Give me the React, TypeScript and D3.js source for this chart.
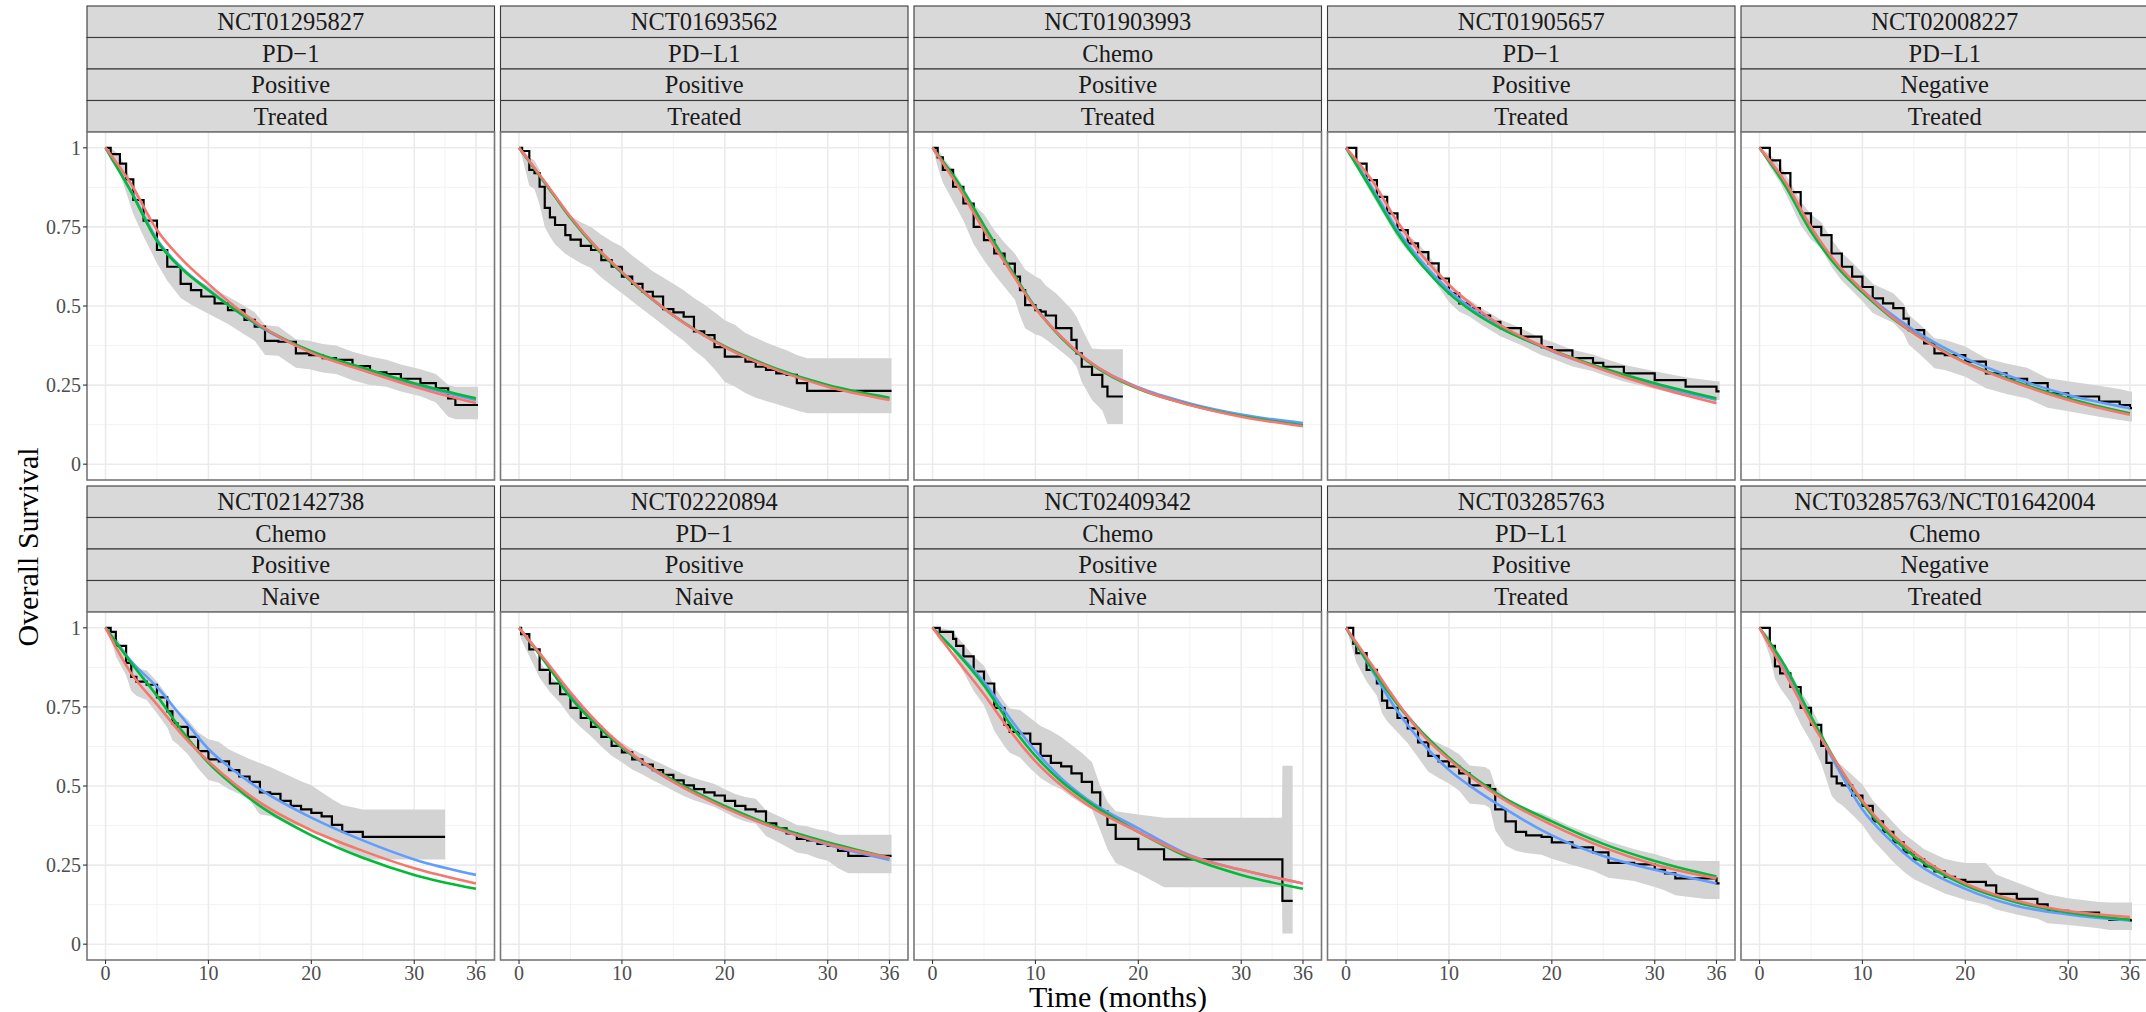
import React from 'react';
import * as d3 from 'd3';

// ---------- facet labels ----------
const trialIds = ['NCT01295827', 'NCT01693562', 'NCT01903993', 'NCT01905657', 'NCT02008227',
  'NCT02142738', 'NCT02220894', 'NCT02409342', 'NCT03285763', 'NCT03285763/NCT01642004'];
const treatments = ['PD\u22121', 'PD\u2212L1', 'Chemo', 'PD\u22121', 'PD\u2212L1', 'Chemo', 'PD\u22121', 'Chemo', 'PD\u2212L1', 'Chemo'];
const pdl1Status = ['Positive', 'Positive', 'Positive', 'Positive', 'Negative', 'Positive', 'Positive', 'Positive', 'Positive', 'Negative'];
const priorTherapy = ['Treated', 'Treated', 'Treated', 'Treated', 'Treated', 'Naive', 'Naive', 'Naive', 'Treated', 'Treated'];

// ---------- axes ----------
const xTicks = [0, 10, 20, 30, 36];
const xMinor = [5, 15, 25, 33];
const yTicks = [0, 0.25, 0.5, 0.75, 1];
const yTickLabels = ['0', '0.25', '0.5', '0.75', '1'];
const yMinor = [0.125, 0.375, 0.625, 0.875];

// ---------- Kaplan-Meier rows: [time, survival, lower CI, upper CI] ----------
const km1 = [[0,1,1,1],[0.5,0.98,0.96,1],[1.4,0.95,0.92,0.975],[2,0.9,0.86,0.935],[2.7,0.835,0.79,0.875],[3.7,0.77,0.72,0.815],[5,0.677,0.635,0.72],[6,0.624,0.58,0.665],[7.3,0.57,0.525,0.615],[8.3,0.55,0.505,0.595],[9.3,0.53,0.487,0.575],[10.6,0.508,0.465,0.552],[11.9,0.487,0.443,0.53],[13.5,0.456,0.41,0.5],[14.5,0.435,0.39,0.48],[15.5,0.39,0.345,0.44],[16.8,0.387,0.343,0.435],[18.5,0.35,0.305,0.395],[19.8,0.345,0.3,0.39],[21.1,0.335,0.29,0.38],[22.4,0.33,0.285,0.375],[24,0.31,0.265,0.355],[25.7,0.29,0.25,0.34],[27.3,0.285,0.245,0.33],[28.7,0.27,0.23,0.315],[30.6,0.256,0.215,0.3],[32.1,0.24,0.195,0.285],[33.3,0.208,0.15,0.25],[34,0.187,0.142,0.245],[36.2,0.187,0.142,0.245]];
const km2 = [[0,1,1,1],[0.3,0.99,0.97,1],[1,0.93,0.88,0.97],[1.5,0.92,0.87,0.96],[2,0.877,0.82,0.93],[2.5,0.81,0.75,0.89],[3,0.78,0.72,0.86],[3.5,0.756,0.695,0.835],[4.5,0.724,0.665,0.795],[5,0.71,0.655,0.785],[6,0.69,0.635,0.765],[7,0.677,0.62,0.75],[8,0.645,0.59,0.725],[9,0.624,0.565,0.705],[10,0.593,0.54,0.687],[11,0.57,0.515,0.66],[12,0.545,0.49,0.635],[13,0.53,0.465,0.61],[14,0.49,0.44,0.59],[15,0.48,0.414,0.57],[16,0.466,0.39,0.55],[17,0.42,0.36,0.525],[18,0.408,0.335,0.505],[19,0.37,0.3,0.48],[20,0.34,0.26,0.455],[21,0.34,0.245,0.44],[22,0.324,0.225,0.415],[23,0.308,0.21,0.4],[24,0.298,0.2,0.385],[25,0.287,0.19,0.372],[26,0.282,0.18,0.36],[27,0.256,0.17,0.345],[28,0.232,0.161,0.335],[36.2,0.232,0.161,0.335]];
const km3 = [[0,1,1,1],[0.5,0.97,0.94,1],[1,0.93,0.89,0.97],[2,0.877,0.83,0.93],[3,0.824,0.77,0.875],[4,0.75,0.695,0.82],[5,0.708,0.645,0.79],[6,0.666,0.6,0.74],[7,0.634,0.56,0.7],[8,0.593,0.52,0.666],[8.5,0.55,0.47,0.64],[9,0.503,0.43,0.615],[10,0.487,0.41,0.593],[10.5,0.482,0.405,0.585],[11,0.47,0.395,0.565],[12,0.43,0.37,0.54],[13.5,0.393,0.33,0.49],[14,0.35,0.308,0.466],[14.5,0.308,0.26,0.43],[15.5,0.282,0.203,0.366],[16.5,0.245,0.17,0.363],[17,0.214,0.127,0.363],[18.5,0.214,0.127,0.363]];
const km4 = [[0,1,1,1],[1,0.95,0.94,0.96],[2,0.898,0.88,0.915],[3,0.845,0.825,0.865],[4,0.793,0.77,0.815],[5,0.74,0.715,0.765],[6,0.698,0.672,0.725],[7,0.67,0.645,0.697],[8,0.635,0.61,0.662],[9,0.587,0.56,0.614],[10,0.54,0.513,0.567],[11,0.508,0.482,0.535],[12,0.493,0.467,0.52],[13,0.47,0.444,0.497],[14,0.45,0.424,0.477],[15,0.43,0.404,0.457],[17,0.403,0.377,0.43],[19,0.37,0.344,0.397],[20,0.36,0.334,0.387],[22,0.335,0.309,0.362],[24,0.32,0.294,0.347],[25,0.308,0.282,0.335],[27,0.287,0.261,0.314],[30,0.266,0.238,0.294],[33,0.245,0.215,0.275],[36,0.23,0.203,0.262],[36.3,0.23,0.203,0.262]];
const km5 = [[0,1,1,1],[1,0.96,0.94,0.98],[2,0.92,0.89,0.945],[3,0.86,0.825,0.89],[4,0.793,0.755,0.83],[5,0.75,0.71,0.79],[6,0.724,0.683,0.765],[7,0.666,0.623,0.71],[8,0.624,0.58,0.668],[9,0.593,0.548,0.638],[10,0.56,0.515,0.605],[11,0.524,0.478,0.57],[12,0.508,0.462,0.555],[13,0.493,0.447,0.54],[14,0.46,0.413,0.507],[14.5,0.424,0.378,0.472],[16,0.382,0.335,0.43],[17,0.35,0.303,0.398],[18,0.345,0.298,0.393],[20,0.324,0.276,0.372],[22,0.287,0.24,0.335],[24,0.27,0.222,0.318],[26,0.256,0.208,0.305],[28,0.224,0.178,0.272],[30,0.214,0.167,0.262],[33,0.198,0.15,0.248],[35,0.187,0.14,0.238],[36,0.177,0.135,0.23],[36.2,0.177,0.135,0.23]];
const km6 = [[0,1,1,1],[0.5,0.987,0.97,1],[1,0.943,0.91,0.97],[2,0.889,0.85,0.925],[2.5,0.845,0.8,0.885],[3,0.83,0.785,0.872],[4,0.82,0.772,0.865],[5,0.78,0.73,0.83],[6,0.736,0.685,0.787],[6.5,0.698,0.645,0.75],[7,0.687,0.632,0.74],[8,0.655,0.6,0.71],[9,0.61,0.555,0.67],[10,0.584,0.519,0.648],[11,0.578,0.51,0.64],[12,0.55,0.49,0.615],[13,0.53,0.475,0.6],[14,0.513,0.455,0.585],[15,0.48,0.41,0.573],[16,0.475,0.405,0.56],[17,0.453,0.392,0.545],[18,0.437,0.38,0.53],[19,0.426,0.372,0.515],[20,0.415,0.366,0.502],[21,0.404,0.35,0.48],[22,0.377,0.33,0.459],[23,0.355,0.3,0.44],[25,0.339,0.268,0.426],[33,0.339,0.268,0.426]];
const km7 = [[0,1,1,1],[0.2,0.98,0.965,0.995],[1,0.932,0.91,0.955],[2,0.867,0.842,0.892],[3,0.824,0.797,0.85],[4,0.79,0.762,0.817],[5,0.747,0.718,0.776],[6,0.715,0.686,0.745],[7,0.687,0.657,0.717],[8,0.655,0.625,0.686],[9,0.627,0.596,0.658],[10,0.606,0.575,0.638],[11,0.584,0.552,0.616],[12,0.568,0.536,0.6],[13,0.55,0.518,0.583],[14,0.535,0.502,0.568],[15,0.518,0.485,0.552],[16,0.502,0.468,0.537],[17,0.49,0.455,0.525],[18,0.48,0.445,0.516],[19,0.47,0.434,0.506],[20,0.453,0.417,0.49],[21,0.437,0.4,0.475],[22,0.426,0.388,0.465],[23,0.42,0.381,0.46],[24,0.382,0.342,0.423],[25,0.366,0.325,0.408],[26,0.35,0.308,0.393],[27,0.333,0.29,0.377],[28,0.328,0.284,0.373],[29,0.317,0.272,0.363],[30,0.311,0.264,0.358],[31,0.295,0.24,0.346],[32,0.279,0.224,0.346],[36.2,0.279,0.224,0.346]];
const km8 = [[0,1,1,1],[0.7,0.987,0.96,1],[2,0.965,0.93,0.99],[2.3,0.943,0.9,0.975],[3,0.91,0.86,0.95],[4,0.862,0.8,0.91],[5,0.824,0.755,0.88],[6,0.747,0.675,0.815],[7,0.693,0.625,0.765],[7.5,0.671,0.605,0.745],[8.5,0.666,0.59,0.74],[9.5,0.633,0.555,0.715],[10.5,0.595,0.525,0.69],[11.5,0.573,0.505,0.675],[12.5,0.562,0.49,0.655],[13.5,0.54,0.465,0.63],[14.5,0.513,0.445,0.605],[15.5,0.48,0.425,0.575],[16.3,0.42,0.36,0.5],[17,0.377,0.3,0.45],[17.8,0.333,0.257,0.42],[20,0.3,0.224,0.41],[22.5,0.268,0.18,0.4],[33.95,0.268,0.18,0.4],[34,0.137,0.034,0.564],[35,0.137,0.034,0.564]];
const km9 = [[0,1,1,1],[0.7,0.95,0.925,0.975],[1,0.92,0.89,0.95],[2,0.867,0.83,0.9],[3,0.824,0.785,0.862],[3.5,0.77,0.73,0.81],[4,0.747,0.705,0.79],[5,0.715,0.67,0.76],[6,0.682,0.635,0.73],[7,0.638,0.59,0.69],[8,0.595,0.545,0.65],[9,0.578,0.525,0.635],[10,0.562,0.508,0.62],[11,0.54,0.485,0.6],[12,0.502,0.445,0.565],[13.5,0.502,0.44,0.56],[14,0.49,0.43,0.55],[14.5,0.426,0.36,0.5],[15.5,0.388,0.312,0.464],[16.5,0.355,0.295,0.44],[17.5,0.344,0.288,0.425],[19,0.339,0.283,0.415],[20,0.322,0.27,0.4],[22,0.306,0.25,0.37],[24,0.29,0.232,0.345],[25.5,0.257,0.21,0.325],[28,0.252,0.2,0.3],[30,0.235,0.181,0.285],[31,0.224,0.17,0.275],[32,0.208,0.155,0.265],[35,0.208,0.143,0.263],[36,0.192,0.143,0.263],[36.3,0.192,0.143,0.263]];
const km10 = [[0,1,1,1],[1,0.943,0.91,0.97],[1.5,0.878,0.84,0.915],[2,0.856,0.81,0.9],[3,0.813,0.765,0.86],[4,0.747,0.695,0.8],[5,0.693,0.64,0.75],[6,0.627,0.57,0.685],[6.5,0.573,0.52,0.63],[7,0.53,0.47,0.595],[7.5,0.508,0.45,0.575],[8,0.502,0.44,0.565],[9,0.47,0.41,0.535],[10,0.437,0.377,0.505],[11,0.388,0.33,0.455],[12,0.355,0.295,0.42],[13,0.322,0.26,0.385],[14,0.29,0.23,0.35],[15,0.268,0.205,0.325],[16,0.246,0.19,0.3],[17,0.23,0.175,0.285],[18,0.213,0.16,0.27],[19,0.203,0.15,0.262],[20,0.197,0.14,0.257],[22,0.186,0.125,0.257],[23,0.159,0.11,0.22],[25,0.143,0.094,0.195],[27,0.126,0.08,0.17],[28,0.105,0.066,0.158],[30,0.1,0.061,0.145],[33,0.083,0.05,0.133],[34,0.077,0.045,0.132],[36,0.075,0.045,0.132],[36.2,0.075,0.045,0.132]];

// ---------- fitted parametric curves, sampled at fitTimes ----------
const fitTimes = [0, 2.5, 5, 7.5, 10, 12.5, 15, 20, 25, 30, 36];
const red1 = [1, 0.885, 0.74, 0.645, 0.57, 0.5, 0.44, 0.352, 0.297, 0.245, 0.193];
const green1 = [1, 0.86, 0.705, 0.615, 0.55, 0.49, 0.437, 0.357, 0.305, 0.256, 0.208];
const blue1 = [1, 0.862, 0.71, 0.618, 0.552, 0.49, 0.435, 0.355, 0.302, 0.252, 0.203];
const red2 = [1, 0.893, 0.782, 0.687, 0.608, 0.535, 0.47, 0.37, 0.298, 0.245, 0.203];
const green2 = [1, 0.89, 0.778, 0.683, 0.605, 0.533, 0.47, 0.372, 0.302, 0.25, 0.21];
const blue2 = [1, 0.891, 0.78, 0.685, 0.606, 0.534, 0.47, 0.371, 0.3, 0.248, 0.206];
const red3 = [1, 0.877, 0.74, 0.614, 0.493, 0.403, 0.33, 0.24, 0.187, 0.15, 0.12];
const green3 = [1, 0.89, 0.755, 0.622, 0.495, 0.4, 0.327, 0.238, 0.188, 0.152, 0.123];
const blue3 = [1, 0.885, 0.75, 0.62, 0.495, 0.402, 0.33, 0.243, 0.192, 0.157, 0.13];
const red4 = [1, 0.898, 0.766, 0.656, 0.567, 0.497, 0.44, 0.36, 0.298, 0.245, 0.193];
const green4 = [1, 0.866, 0.73, 0.624, 0.54, 0.478, 0.43, 0.36, 0.303, 0.256, 0.208];
const blue4 = [1, 0.875, 0.74, 0.635, 0.55, 0.485, 0.433, 0.358, 0.3, 0.25, 0.203];
const red5 = [1, 0.893, 0.75, 0.635, 0.55, 0.475, 0.414, 0.32, 0.256, 0.203, 0.156];
const green5 = [1, 0.88, 0.735, 0.625, 0.543, 0.472, 0.414, 0.322, 0.26, 0.208, 0.161];
const blue5 = [1, 0.885, 0.742, 0.632, 0.55, 0.482, 0.424, 0.335, 0.27, 0.219, 0.177];
const red6 = [1, 0.856, 0.758, 0.66, 0.578, 0.508, 0.448, 0.36, 0.295, 0.24, 0.192];
const green6 = [1, 0.889, 0.785, 0.671, 0.573, 0.5, 0.437, 0.344, 0.273, 0.219, 0.175];
const blue6 = [1, 0.894, 0.813, 0.715, 0.617, 0.548, 0.49, 0.4, 0.328, 0.268, 0.219];
const red7 = [1, 0.9, 0.796, 0.704, 0.627, 0.565, 0.513, 0.431, 0.366, 0.317, 0.273];
const green7 = [1, 0.894, 0.78, 0.693, 0.622, 0.565, 0.518, 0.437, 0.371, 0.322, 0.273];
const blue7 = [1, 0.895, 0.785, 0.697, 0.622, 0.563, 0.513, 0.432, 0.366, 0.314, 0.266];
const red8 = [1, 0.894, 0.79, 0.676, 0.578, 0.502, 0.442, 0.355, 0.279, 0.235, 0.192];
const green8 = [1, 0.916, 0.818, 0.698, 0.595, 0.515, 0.453, 0.355, 0.273, 0.219, 0.175];
const blue8 = [1, 0.918, 0.829, 0.715, 0.611, 0.525, 0.459, 0.366, 0.281, 0.235, 0.192];
const red9 = [1, 0.883, 0.764, 0.66, 0.584, 0.52, 0.464, 0.377, 0.306, 0.252, 0.208];
const green9 = [1, 0.872, 0.758, 0.666, 0.589, 0.525, 0.47, 0.388, 0.317, 0.263, 0.214];
const blue9 = [1, 0.867, 0.736, 0.633, 0.551, 0.49, 0.437, 0.344, 0.279, 0.235, 0.192];
const red10 = [1, 0.856, 0.704, 0.573, 0.453, 0.36, 0.29, 0.192, 0.137, 0.105, 0.086];
const green10 = [1, 0.878, 0.72, 0.573, 0.448, 0.35, 0.279, 0.186, 0.132, 0.1, 0.077];
const blue10 = [1, 0.862, 0.715, 0.562, 0.426, 0.335, 0.262, 0.175, 0.121, 0.094, 0.075];

const kmCurves = [km1, km2, km3, km4, km5, km6, km7, km8, km9, km10];
const redFits = [red1, red2, red3, red4, red5, red6, red7, red8, red9, red10];
const greenFits = [green1, green2, green3, green4, green5, green6, green7, green8, green9, green10];
const blueFits = [blue1, blue2, blue3, blue4, blue5, blue6, blue7, blue8, blue9, blue10];

const FONT = "'Liberation Serif', 'DejaVu Serif', 'Times New Roman', serif";

export default function App() {
  const W = 2146, H = 1012;
  const left0 = 87, pitch = 413.5, panelW = 407.5;
  const rowTops = [6, 486];
  const stripH = 31.5;
  const panelH = 348;

  const panels = trialIds.map((id, p) => {
    const col = p % 5, row = Math.floor(p / 5);
    const L = left0 + col * pitch;
    const T = rowTops[row] + 4 * stripH;
    const x = d3.scaleLinear().domain([-1.8, 37.8]).range([L, L + panelW]);
    const y = d3.scaleLinear().domain([-0.05, 1.05]).range([T + panelH, T]);
    const band = d3.area<number[]>().x(d => x(d[0])).y0(d => y(d[2])).y1(d => y(d[3])).curve(d3.curveLinear);
    const kmLine = d3.line<number[]>().x(d => x(d[0])).y(d => y(d[1])).curve(d3.curveStepAfter);
    const fitLine = d3.line<number>().x((_, i) => x(fitTimes[i])).y(d => y(d)).curve(d3.curveMonotoneX);
    const labels = [id, treatments[p], pdl1Status[p], priorTherapy[p]];
    const clipId = `clip${p}`;
    return (
      <g key={p}>
        <defs>
          <clipPath id={clipId}><rect x={L} y={T} width={panelW} height={panelH} /></clipPath>
        </defs>
        {labels.map((lab, k) => {
          const sy = rowTops[row] + k * stripH;
          return (
            <g key={k}>
              <rect x={L} y={sy} width={panelW} height={stripH} fill="#D9D9D9" stroke="#3a3a3a" strokeWidth={1.1} />
              <text x={L + panelW / 2} y={sy + stripH / 2 + 8.3} textAnchor="middle" fontFamily={FONT} fontSize={24.5} fill="#1A1A1A">{lab}</text>
            </g>
          );
        })}
        <rect x={L} y={T} width={panelW} height={panelH} fill="#FFFFFF" />
        {yMinor.map(v => <line key={'ym' + v} x1={L} x2={L + panelW} y1={y(v)} y2={y(v)} stroke="#F2F2F2" strokeWidth={0.9} />)}
        {xMinor.map(v => <line key={'xm' + v} x1={x(v)} x2={x(v)} y1={T} y2={T + panelH} stroke="#F2F2F2" strokeWidth={0.9} />)}
        {yTicks.map(v => <line key={'yM' + v} x1={L} x2={L + panelW} y1={y(v)} y2={y(v)} stroke="#EBEBEB" strokeWidth={1.6} />)}
        {xTicks.map(v => <line key={'xM' + v} x1={x(v)} x2={x(v)} y1={T} y2={T + panelH} stroke="#EBEBEB" strokeWidth={1.6} />)}
        <g clipPath={`url(#${clipId})`}>
          <path d={band(kmCurves[p]) || ''} fill="#D3D3D3" stroke="none" />
          <path d={kmLine(kmCurves[p]) || ''} fill="none" stroke="#000000" strokeWidth={2.2} />
          <path d={fitLine(blueFits[p]) || ''} fill="none" stroke="#619CFF" strokeWidth={2.6} />
          <path d={fitLine(greenFits[p]) || ''} fill="none" stroke="#00BA38" strokeWidth={2.6} />
          <path d={fitLine(redFits[p]) || ''} fill="none" stroke="#F8766D" strokeWidth={2.6} />
        </g>
        <rect x={L} y={T} width={panelW} height={panelH} fill="none" stroke="#777777" strokeWidth={1.6} />
        {col === 0 && yTicks.map((v, i) => (
          <g key={'yt' + v}>
            <line x1={L - 4} x2={L} y1={y(v)} y2={y(v)} stroke="#333333" strokeWidth={1.1} />
            <text x={L - 6} y={y(v) + 6.8} textAnchor="end" fontFamily={FONT} fontSize={20} fill="#4D4D4D">{yTickLabels[i]}</text>
          </g>
        ))}
        {row === 1 && xTicks.map(v => (
          <g key={'xt' + v}>
            <line x1={x(v)} x2={x(v)} y1={T + panelH} y2={T + panelH + 4} stroke="#333333" strokeWidth={1.1} />
            <text x={x(v)} y={T + panelH + 20} textAnchor="middle" fontFamily={FONT} fontSize={20} fill="#4D4D4D">{String(v)}</text>
          </g>
        ))}
      </g>
    );
  });

  return (
    <svg width={W} height={H} viewBox={`0 0 ${W} ${H}`} style={{ position: 'absolute', left: 0, top: 0, background: '#FFFFFF' }}>
      <rect x={0} y={0} width={W} height={H} fill="#FFFFFF" />
      {panels}
      <text x={1118} y={1007} textAnchor="middle" fontFamily={FONT} fontSize={30} fill="#000000">Time (months)</text>
      <text transform="translate(38,547) rotate(-90)" textAnchor="middle" fontFamily={FONT} fontSize={30} fill="#000000">Overall Survival</text>
    </svg>
  );
}
